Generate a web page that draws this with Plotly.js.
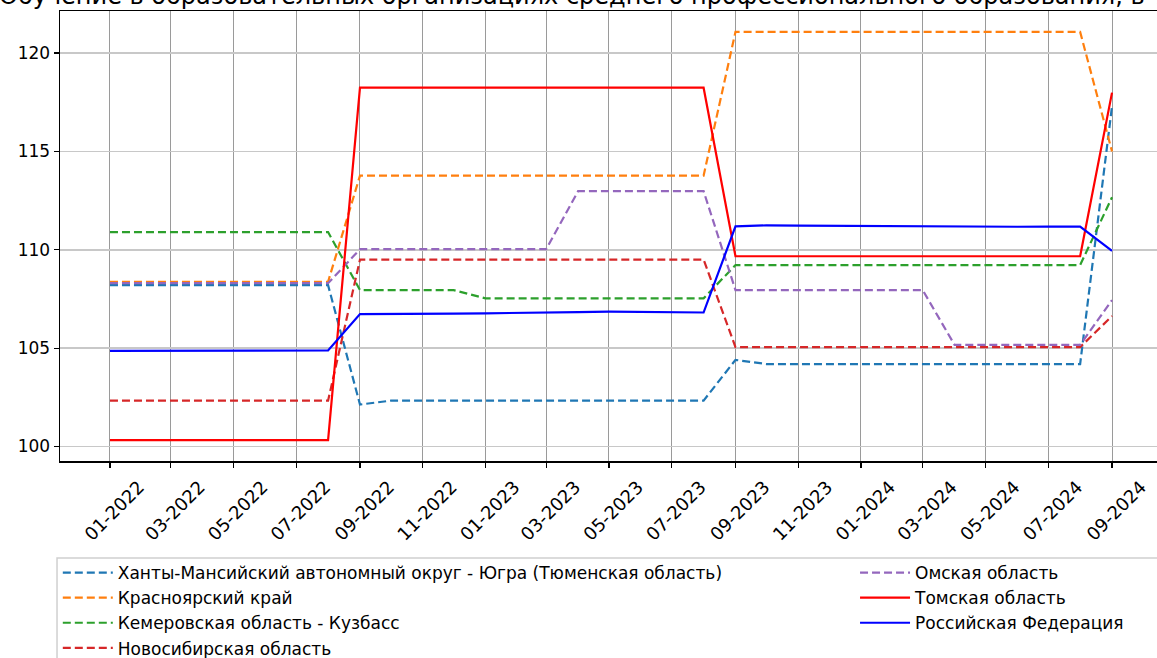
<!DOCTYPE html>
<html>
<head>
<meta charset="utf-8">
<script src="https://cdn.plot.ly/plotly-3.0.1.min.js"></script>
<style>
html, body { margin: 0; padding: 0; overflow: hidden; background: #fff; }
#chart { width: 1170px; height: 658px; }
</style>
</head>
<body>
<div id="chart"></div>
<script>
const months = [
  "2022-01-01","2022-02-01","2022-03-01","2022-04-01","2022-05-01","2022-06-01","2022-07-01","2022-08-01",
  "2022-09-01","2022-10-01","2022-11-01","2022-12-01",
  "2023-01-01","2023-02-01","2023-03-01","2023-04-01","2023-05-01","2023-06-01","2023-07-01","2023-08-01",
  "2023-09-01","2023-10-01","2023-11-01","2023-12-01",
  "2024-01-01","2024-02-01","2024-03-01","2024-04-01","2024-05-01","2024-06-01","2024-07-01","2024-08-01",
  "2024-09-01"
];

const seriesNames = [
  "Ханты-Мансийский автономный округ - Югра (Тюменская область)",
  "Красноярский край",
  "Кемеровская область - Кузбасс",
  "Новосибирская область",
  "Омская область",
  "Томская область",
  "Российская Федерация"
];

const khmao = [
  108.2,108.2,108.2,108.2,108.2,108.2,108.2,108.2,
  102.13,102.33,102.33,102.33,
  102.33,102.33,102.33,102.33,102.33,102.33,102.33,102.33,
  104.4,104.19,104.19,104.19,
  104.19,104.19,104.19,104.19,104.19,104.19,104.19,104.19,
  117.3
];
const krasnoyarsk = [
  108.37,108.37,108.37,108.37,108.37,108.37,108.37,108.37,
  113.77,113.77,113.77,113.77,
  113.77,113.77,113.77,113.77,113.77,113.77,113.77,113.77,
  121.08,121.08,121.08,121.08,
  121.08,121.08,121.08,121.08,121.08,121.08,121.08,121.08,
  115.0
];
const kemerovo = [
  110.9,110.9,110.9,110.9,110.9,110.9,110.9,110.9,
  107.95,107.95,107.95,107.95,
  107.53,107.53,107.53,107.53,107.53,107.53,107.53,107.53,
  109.22,109.22,109.22,109.22,
  109.22,109.22,109.22,109.22,109.22,109.22,109.22,109.22,
  112.67
];
const novosibirsk = [
  102.33,102.33,102.33,102.33,102.33,102.33,102.33,102.33,
  109.5,109.5,109.5,109.5,
  109.5,109.5,109.5,109.5,109.5,109.5,109.5,109.5,
  105.05,105.05,105.05,105.05,
  105.05,105.05,105.05,105.05,105.05,105.05,105.05,105.05,
  106.63
];
const omsk = [
  108.3,108.3,108.3,108.3,108.3,108.3,108.3,108.3,
  110.03,110.03,110.03,110.03,
  110.03,110.03,110.03,112.98,112.98,112.98,112.98,112.98,
  107.95,107.95,107.95,107.95,
  107.95,107.95,107.95,105.16,105.16,105.16,105.16,105.16,
  107.44
];
const tomsk = [
  100.32,100.32,100.32,100.32,100.32,100.32,100.32,100.32,
  118.24,118.24,118.24,118.24,
  118.24,118.24,118.24,118.24,118.24,118.24,118.24,118.24,
  109.67,109.67,109.67,109.67,
  109.67,109.67,109.67,109.67,109.67,109.67,109.67,109.67,
  117.99
];
const russia = [
  104.86,104.86,104.86,104.86,104.87,104.87,104.88,104.88,
  106.73,106.73,106.74,106.75,
  106.77,106.78,106.80,106.83,106.85,106.84,106.82,106.81,
  111.19,111.24,111.23,111.22,
  111.20,111.18,111.20,111.18,111.17,111.17,111.18,111.18,
  109.94
];

const seriesValues = [khmao, krasnoyarsk, kemerovo, novosibirsk, omsk, tomsk, russia];
const seriesColors = ["#1f77b4","#ff7f0e","#2ca02c","#d62728","#9467bd","#ff0000","#0000ff"];
const seriesDash = ["8px,4px","8px,4px","8px,4px","8px,4px","8px,4px","solid","solid"];
const seriesLegend = ["legend","legend","legend","legend","legend2","legend2","legend2"];

const titleText = "Обучение в образовательных организациях среднего профессионального образования, в % к соответствующему периоду";

const traces = seriesNames.map((name, i) => ({
  type: "scatter",
  mode: "lines",
  x: months,
  y: seriesValues[i],
  name: name,
  legend: seriesLegend[i],
  legendgroup: "g" + i,
  line: { color: seriesColors[i], width: 2.2, dash: seriesDash[i] },
  hoverinfo: "skip"
}));

const legendFont = { family: "DejaVu Sans, sans-serif", size: 17, color: "#000" };

const layout = {
  width: 1170,
  height: 658,
  margin: { l: 60, r: 8, t: 11, b: 197, autoexpand: false },
  paper_bgcolor: "#fff",
  plot_bgcolor: "#fff",
  font: { family: "DejaVu Sans, sans-serif", size: 16, color: "#000" },
  showlegend: true,
  xaxis: {
    type: "date",
    automargin: false,
    range: ["2021-11-13 10:00", "2024-10-19 14:00"],
    tick0: "2022-01-01",
    dtick: "M2",
    tickformat: "%m-%Y",
    tickangle: -45,
    ticklabelshift: 29,
    ticklabelstandoff: 2,
    ticks: "outside",
    ticklen: 5,
    tickwidth: 1.2,
    tickcolor: "#000",
    tickfont: { family: "DejaVu Sans, sans-serif", size: 18, color: "#000" },
    showgrid: true,
    gridcolor: "#9a9a9a",
    gridwidth: 1,
    showline: true,
    linecolor: "#000",
    linewidth: 1.5,
    mirror: true,
    zeroline: false
  },
  yaxis: {
    automargin: false,
    range: [99.26, 122.14],
    tick0: 100,
    dtick: 5,
    ticks: "outside",
    ticklen: 5,
    tickwidth: 1.2,
    tickcolor: "#000",
    tickfont: { family: "DejaVu Sans, sans-serif", size: 17, color: "#000" },
    showgrid: true,
    gridcolor: "#c8c8c8",
    gridwidth: 1.5,
    showline: true,
    linecolor: "#000",
    linewidth: 1.5,
    mirror: true,
    zeroline: false
  },
  legend: {
    xref: "container", yref: "container",
    x: 0.0494, xanchor: "left",
    y: 0.1565, yanchor: "top",
    orientation: "v",
    bgcolor: "rgba(0,0,0,0)",
    borderwidth: 0,
    tracegroupgap: 0,
    itemwidth: 50,
    font: legendFont
  },
  legend2: {
    xref: "container", yref: "container",
    x: 0.7308, xanchor: "left",
    y: 0.1565, yanchor: "top",
    orientation: "v",
    bgcolor: "rgba(0,0,0,0)",
    borderwidth: 0,
    tracegroupgap: 0,
    itemwidth: 50,
    font: legendFont
  },
  shapes: [{
    type: "rect", xref: "paper", yref: "paper",
    x0: -0.0027, x1: 1.05, y0: -0.2156, y1: -0.6,
    line: { color: "#d0d0d0", width: 1.5 },
    fillcolor: "rgba(0,0,0,0)",
    layer: "below"
  }],
  annotations: [{
    text: titleText,
    xref: "paper", yref: "paper",
    x: -0.057, xanchor: "left",
    y: 1, yanchor: "bottom",
    yshift: -1,
    showarrow: false,
    font: { family: "DejaVu Sans, sans-serif", size: 24, color: "#000" }
  }]
};

Plotly.newPlot("chart", traces, layout, { displayModeBar: false, staticPlot: true });
</script>
</body>
</html>
